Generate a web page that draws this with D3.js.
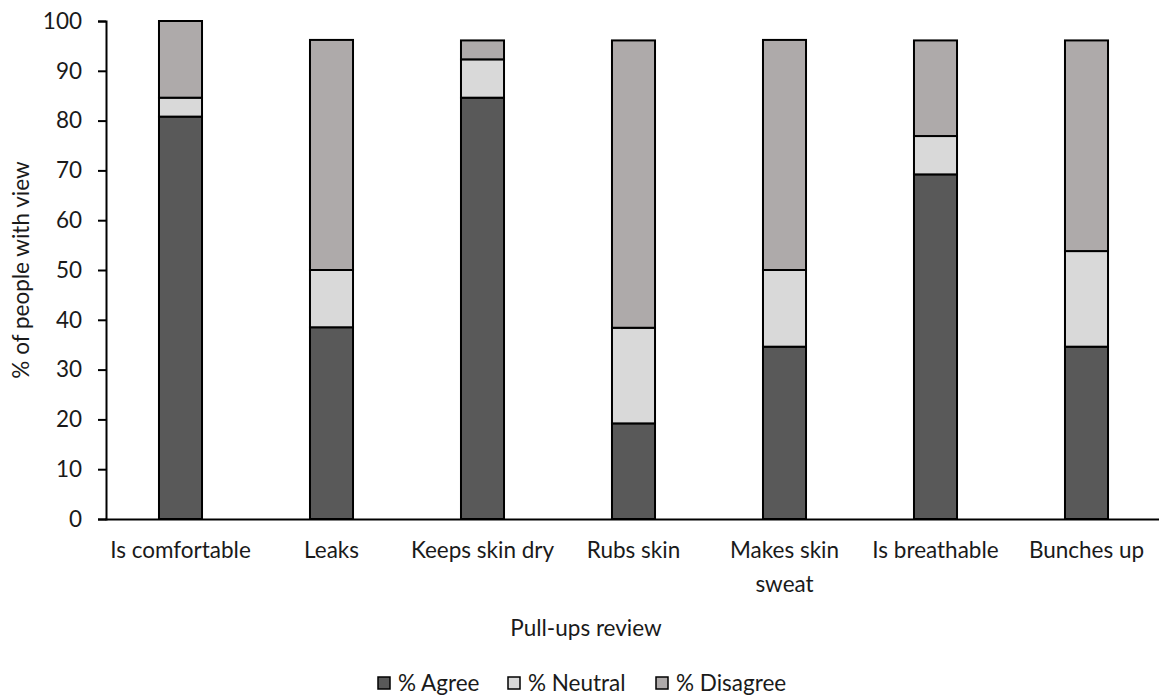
<!DOCTYPE html>
<html><head><meta charset="utf-8">
<script src="https://cdn.jsdelivr.net/npm/d3@7"></script>
<style>body{margin:0;background:#fff}text{font-family:Lato,"Open Sans",sans-serif;fill:#1a1a1a}</style>
</head><body>
<svg id="c" width="1159" height="697"></svg>
<script>
const categories = ["Is comfortable","Leaks","Keeps skin dry","Rubs skin","Makes skin sweat","Is breathable","Bunches up"];
const agree    = [80.8, 38.5, 84.6, 19.2, 34.6, 69.2, 34.6];
const neutral  = [3.8, 11.5, 7.7, 19.2, 15.4, 7.7, 19.2];
const disagree = [15.4, 46.2, 3.8, 57.7, 46.2, 19.2, 42.3];
const seriesNames = ["% Agree","% Neutral","% Disagree"];
const yTicks = [0,10,20,30,40,50,60,70,80,90,100];
const colors = ["#595959","#d9d9d9","#aeaaaa"];
const FS = "22.5px";

const svg = d3.select("#c");
const x = d3.scaleBand().domain(categories).range([105, 1162]).paddingInner(0.715).paddingOuter(0.3575);
const y = d3.scaleLinear().domain([0,100]).range([519,21]);

const rows = categories.map((c,i)=>({cat:c, "% Agree":agree[i], "% Neutral":neutral[i], "% Disagree":disagree[i]}));
const stacked = d3.stack().keys(seriesNames)(rows);

// y axis
const yAxis = svg.append("g").attr("transform","translate(106,0)")
  .call(d3.axisLeft(y).tickValues(yTicks).tickSize(8).tickPadding(16));
yAxis.select(".domain").attr("stroke","#000").attr("stroke-width",2);
yAxis.selectAll(".tick line").attr("stroke","#000").attr("stroke-width",2);
yAxis.selectAll(".tick text").style("font-size",FS).attr("fill","#1a1a1a");

// bars
stacked.forEach((s,k)=>{
  svg.append("g").selectAll("rect").data(s).join("rect")
    .attr("x", d=>x(d.data.cat))
    .attr("width", x.bandwidth())
    .attr("y", d=>y(d[1]))
    .attr("height", d=>y(d[0])-y(d[1]))
    .attr("fill", colors[k]).attr("stroke","#000").attr("stroke-width",2);
});

// x axis
const xAxis = svg.append("g").attr("transform","translate(0,519)")
  .call(d3.axisBottom(x).tickSize(0).tickPadding(23));
xAxis.select(".domain").attr("stroke","#000").attr("stroke-width",2);
xAxis.selectAll(".tick text").style("font-size",FS).attr("fill","#1a1a1a")
  .each(function(d){
    const t = d3.select(this);
    if (d === "Makes skin sweat") {
      t.text(null);
      t.append("tspan").attr("x",0).attr("dy","0.71em").text("Makes skin");
      t.append("tspan").attr("x",0).attr("dy","1.5em").text("sweat");
    }
  });

// titles
svg.append("text").attr("transform","translate(29,270) rotate(-90)").attr("text-anchor","middle")
  .style("font-size",FS).text("% of people with view");
svg.append("text").attr("x",586).attr("y",636).attr("text-anchor","middle")
  .style("font-size",FS).text("Pull-ups review");

// legend
const legX = [378, 508, 656];
const leg = svg.append("g");
seriesNames.forEach((n,k)=>{
  leg.append("rect").attr("x",legX[k]).attr("y",677).attr("width",12).attr("height",12)
    .attr("fill",colors[k]).attr("stroke","#000").attr("stroke-width",1.5);
  leg.append("text").attr("x",legX[k]+20).attr("y",691).style("font-size",FS).text(n);
});
</script>
</body></html>
